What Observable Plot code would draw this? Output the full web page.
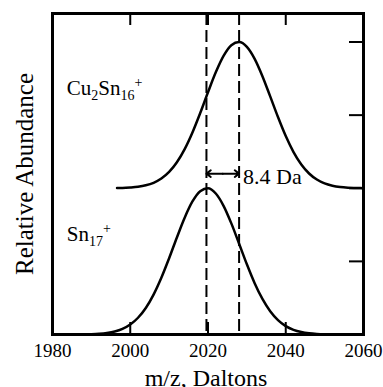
<!DOCTYPE html>
<html><head><meta charset="utf-8">
<script src="https://cdn.jsdelivr.net/npm/d3@7"></script>
<script src="https://cdn.jsdelivr.net/npm/@observablehq/plot@0.6"></script>
<style>html,body{margin:0;padding:0;background:#fff} svg{display:block}</style>
</head><body><div id="chart"></div>
<script>
// Sn17+ peak (lower trace)
const snMz = [1980, 1984, 1988, 1990, 1992, 1994, 1996, 1998, 2000, 2002, 2004, 2006, 2008, 2010, 2012, 2014, 2016, 2018, 2020, 2022, 2024, 2026, 2028, 2030, 2032, 2034, 2036, 2038, 2040, 2042, 2044, 2046, 2048, 2050, 2052, 2056, 2060];
const sn17 = [0, 0.0003, 0.002, 0.0045, 0.010, 0.021, 0.041, 0.077, 0.136, 0.229, 0.363, 0.546, 0.776, 1.043, 1.327, 1.597, 1.819, 1.960, 1.999, 1.928, 1.760, 1.520, 1.242, 0.960, 0.702, 0.486, 0.318, 0.197, 0.115, 0.064, 0.034, 0.017, 0.008, 0.0035, 0.0014, 0.0002, 0];
// Cu2Sn16+ peak (upper trace, offset baseline)
const cuMz = [1996.6, 1998, 2000, 2002, 2004, 2006, 2008, 2010, 2012, 2014, 2016, 2018, 2020, 2022, 2024, 2026, 2028, 2030, 2032, 2034, 2036, 2038, 2040, 2042, 2044, 2046, 2048, 2050, 2052, 2054, 2056, 2058, 2060];
const cu2sn16 = [2.003, 2.004, 2.010, 2.020, 2.040, 2.075, 2.133, 2.223, 2.355, 2.535, 2.763, 3.029, 3.313, 3.585, 3.810, 3.956, 3.999, 3.934, 3.770, 3.533, 3.256, 2.974, 2.714, 2.495, 2.325, 2.202, 2.119, 2.066, 2.035, 2.017, 2.008, 2.004, 2.001];
// peak centres (dashed lines) and shift label
const peakCenters = [2019.6, 2028.0];
const shiftLabel = "8.4 Da";
// ticks
const xTicks = [1980, 2000, 2020, 2040, 2060];
const innerXTicks = [2000, 2020, 2040];
const yTicks = [1, 2, 3, 4];
const xTitle = "m/z, Daltons";
const yTitle = "Relative Abundance";

const snData = snMz.map((x, i) => ({x, y: sn17[i]}));
const cuData = cuMz.map((x, i) => ({x, y: cu2sn16[i]}));
const mid = (peakCenters[0] + peakCenters[1]) / 2;
const arrows = peakCenters.map(c => ({x1: mid, x2: c, y: 2.2}));

const W = 383, H = 387, mL = 52, mR = 20, mT = 13, mB = 53;
const innerW = W - mL - mR, innerH = H - mT - mB;
const serif = '"Liberation Serif", "Times New Roman", serif';

const chart = Plot.plot({
  width: W, height: H,
  marginLeft: mL, marginRight: mR, marginTop: mT, marginBottom: mB,
  style: {fontFamily: serif, fontSize: "19px", background: "white", color: "black"},
  x: {domain: [1980, 2060], ticks: xTicks, tickSize: 0, tickPadding: 9, tickFormat: d => String(d), label: null},
  y: {domain: [0, 4.39], axis: null},
  marks: [
    Plot.ruleX(peakCenters, {stroke: "black", strokeWidth: 2, strokeDasharray: "12,5"}),
    Plot.line(snData, {x: "x", y: "y", curve: "monotone-x", stroke: "black", strokeWidth: 2.5}),
    Plot.line(cuData, {x: "x", y: "y", curve: "monotone-x", stroke: "black", strokeWidth: 2.5}),
    Plot.arrow(arrows, {x1: "x1", x2: "x2", y1: "y", y2: "y", headLength: 10, headAngle: 75, stroke: "black", strokeWidth: 2}),
    Plot.text([shiftLabel], {x: () => 2029.0, y: () => 2.06, text: d => d, textAnchor: "start", lineAnchor: "bottom", fontSize: 22, fontFamily: serif, fill: "black"}),
    // inward ticks on bottom, top and right edges
    Plot.ruleX(innerXTicks, {stroke: "black", strokeWidth: 2, insetTop: innerH - 12}),
    Plot.ruleX(innerXTicks, {stroke: "black", strokeWidth: 2, insetBottom: innerH - 12}),
    Plot.ruleY(yTicks, {stroke: "black", strokeWidth: 2, insetLeft: innerW - 14}),
    Plot.frame({stroke: "black", strokeWidth: 3}),
    Plot.text([xTitle], {frameAnchor: "bottom", text: d => d, textAnchor: "middle", lineAnchor: "bottom", dy: 51, dx: -2, fontSize: 24, fontFamily: serif, fill: "black"}),
    Plot.text([yTitle], {frameAnchor: "left", text: d => d, rotate: -90, textAnchor: "middle", lineAnchor: "bottom", dx: -20, fontSize: 25, fontFamily: serif, fill: "black"})
  ]
});
const svg = d3.select(chart);
svg.attr("font-family", serif).attr("font-size", 19).style("font-family", serif).style("font-size", "19px");
document.getElementById("chart").appendChild(chart);

// formula labels with sub/superscripts
const sx = chart.scale("x"), sy = chart.scale("y");
function formula(parts, x, y) {
  const t = svg.append("text")
    .attr("x", sx.apply(x)).attr("y", sy.apply(y))
    .attr("text-anchor", "start")
    .attr("font-family", serif).attr("font-size", 21).attr("fill", "black");
  for (const [s, dy, size] of parts) {
    t.append("tspan").attr("dy", dy).attr("font-size", size).text(s);
  }
}
formula([["Cu", 0, 21], ["2", 5, 14], ["Sn", -5, 21], ["16", 5, 14], ["+", -13, 14]], 1983.8, 3.27);
formula([["Sn", 0, 21], ["17", 5, 14], ["+", -13, 14]], 1983.8, 1.27);
</script>
</body></html>
